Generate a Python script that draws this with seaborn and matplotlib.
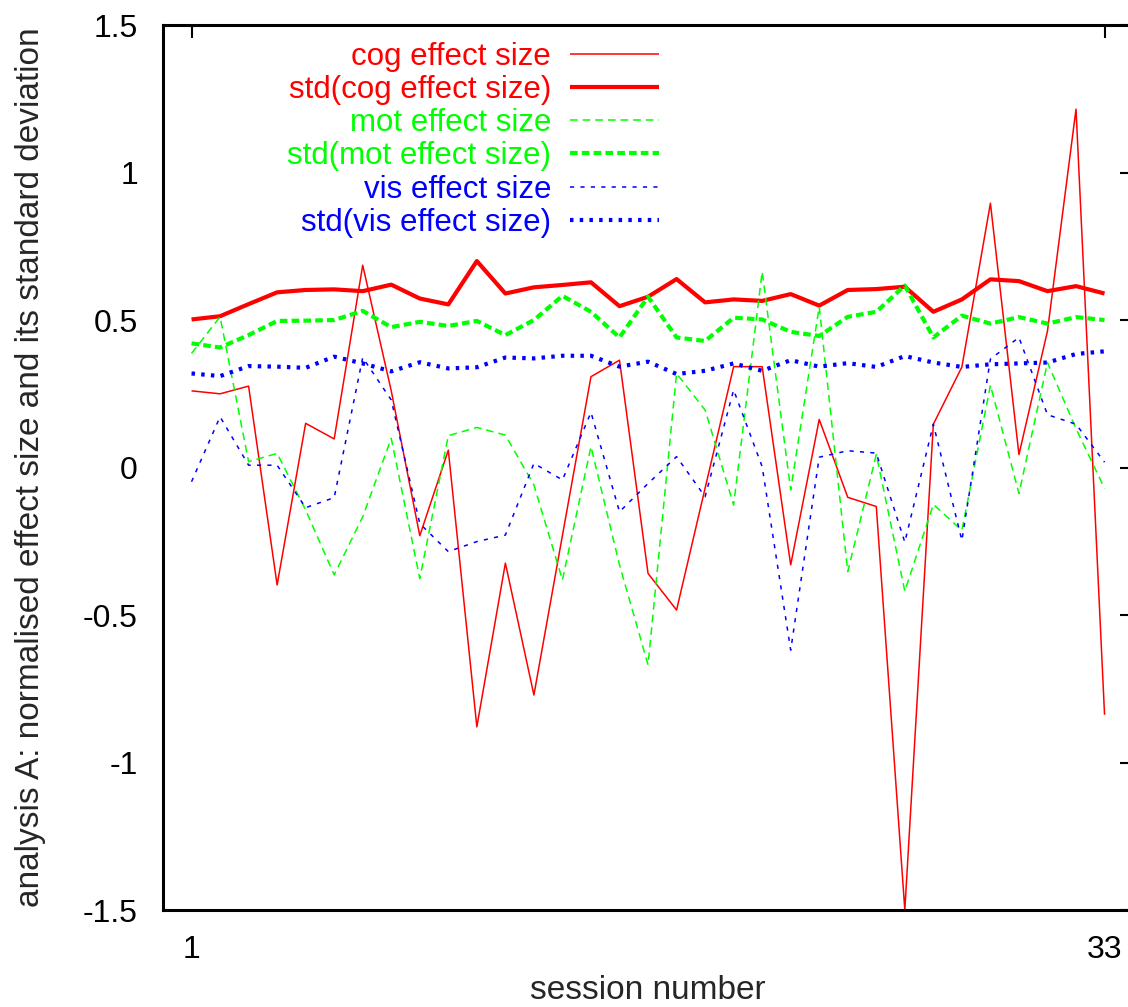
import numpy as np
import seaborn as sns
import matplotlib
matplotlib.use("Agg")
import matplotlib.pyplot as plt

# session numbers and the values
sessions = np.arange(1, 34)

cog = [0.26, 0.25, 0.276, -0.398, 0.15, 0.097, 0.686, 0.26, -0.231, 0.059,
       -0.879, -0.324, -0.771, -0.23, 0.308, 0.364, -0.359, -0.483, -0.07, 0.342,
       0.342, -0.33, 0.163, -0.101, -0.132, -1.5, 0.147, 0.341, 0.896, 0.044,
       0.463, 1.215, -0.838]
std_cog = [0.502, 0.513, 0.554, 0.594, 0.602, 0.604, 0.598, 0.62, 0.573, 0.553,
           0.70, 0.590, 0.611, 0.619, 0.628, 0.547, 0.579, 0.639, 0.56, 0.570,
           0.565, 0.588, 0.549, 0.602, 0.605, 0.613, 0.528, 0.570, 0.638, 0.632,
           0.598, 0.615, 0.590]
mot = [0.387, 0.511, 0.02, 0.048, -0.144, -0.364, -0.167, 0.099, -0.376, 0.108,
       0.136, 0.110, -0.059, -0.381, 0.071, -0.33, -0.669, 0.319, 0.195, -0.127,
       0.664, -0.076, 0.545, -0.353, 0.044, -0.419, -0.125, -0.213, 0.279, -0.088,
       0.356, 0.132, -0.071]
std_mot = [0.421, 0.407, 0.449, 0.497, 0.498, 0.5, 0.531, 0.476, 0.494, 0.48,
           0.497, 0.449, 0.5, 0.582, 0.528, 0.441, 0.579, 0.441, 0.429, 0.508,
           0.502, 0.460, 0.446, 0.511, 0.528, 0.617, 0.441, 0.515, 0.488, 0.51,
           0.488, 0.51, 0.5]
vis = [-0.048, 0.172, 0.008, 0.008, -0.136, -0.102, 0.373, 0.229, -0.19, -0.285,
       -0.251, -0.229, 0.014, -0.042, 0.187, -0.15, -0.054, 0.037, -0.099, 0.263,
       0.003, -0.619, 0.035, 0.057, 0.049, -0.253, 0.147, -0.247, 0.368, 0.441,
       0.179, 0.147, 0.018]
std_vis = [0.319, 0.310, 0.344, 0.342, 0.338, 0.376, 0.353, 0.326, 0.357, 0.336,
           0.34, 0.373, 0.370, 0.379, 0.379, 0.342, 0.359, 0.317, 0.328, 0.353,
           0.328, 0.364, 0.342, 0.354, 0.341, 0.378, 0.356, 0.341, 0.35, 0.353,
           0.356, 0.385, 0.394]

ytick_vals = [-1.5, -1, -0.5, 0, 0.5, 1, 1.5]
ytick_labels = ["-1.5", "-1", "-0.5", "0", "0.5", "1", "1.5"]
xtick_vals = [1, 33]

sns.set_style("white")
plt.rcParams["font.family"] = ["Liberation Sans", "DejaVu Sans"]
plt.rcParams["axes.unicode_minus"] = False
plt.rcParams["lines.scale_dashes"] = False

fig = plt.figure(figsize=(11.28, 10.07), dpi=100)
ax = fig.add_axes([0.1445, 0.0963, 0.86, 0.8788])

series = [
    (cog, "cog effect size", "#ff0000", 1.1, "-"),
    (std_cog, "std(cog effect size)", "#ff0000", 3.0, "-"),
    (mot, "mot effect size", "#00ff00", 1.1, (0, (5.5, 3.6))),
    (std_mot, "std(mot effect size)", "#00ff00", 3.0, (0, (5.5, 3))),
    (vis, "vis effect size", "#0000ff", 1.1, (0, (3, 4.5))),
    (std_vis, "std(vis effect size)", "#0000ff", 3.0, (0, (2.5, 4.5))),
]
for vals, name, col, lw, ls in series:
    sns.lineplot(x=sessions, y=vals, ax=ax, color=col, lw=lw, linestyle=ls,
                 label=name, solid_capstyle="butt", dash_capstyle="butt")

ax.set_xlim(0, 34)
ax.set_ylim(-1.5, 1.5)
ax.set_xticks(xtick_vals)
ax.set_xticklabels([str(v) for v in xtick_vals])
ax.set_yticks(ytick_vals)
ax.set_yticklabels(ytick_labels)
ax.tick_params(direction="in", length=9.5, width=1.5, top=True, right=True,
               labelsize=23, color="black", labelcolor="black")
ax.tick_params(axis="y", pad=18)
ax.tick_params(axis="x", pad=18)
for sp in ax.spines.values():
    sp.set_linewidth(2.2)
    sp.set_color("black")
ax.spines["right"].set_visible(False)

ax.set_xlabel("session number", fontsize=24)
ax.set_ylabel("analysis A: normalised effect size and its standard deviation", fontsize=24)
ax.xaxis.set_label_coords(0.5, -0.073)
ax.yaxis.set_label_coords(-0.121, 0.5)

leg = ax.legend(loc="upper right", bbox_to_anchor=(659 / 1128, 1 - 42 / 1007),
                bbox_transform=fig.transFigure, frameon=False, markerfirst=False,
                fontsize=22.5, handlelength=2.85, handletextpad=0.6, labelspacing=0.1,
                borderpad=0, borderaxespad=0, labelcolor="linecolor")

fig.savefig("out.png", dpi=100)
